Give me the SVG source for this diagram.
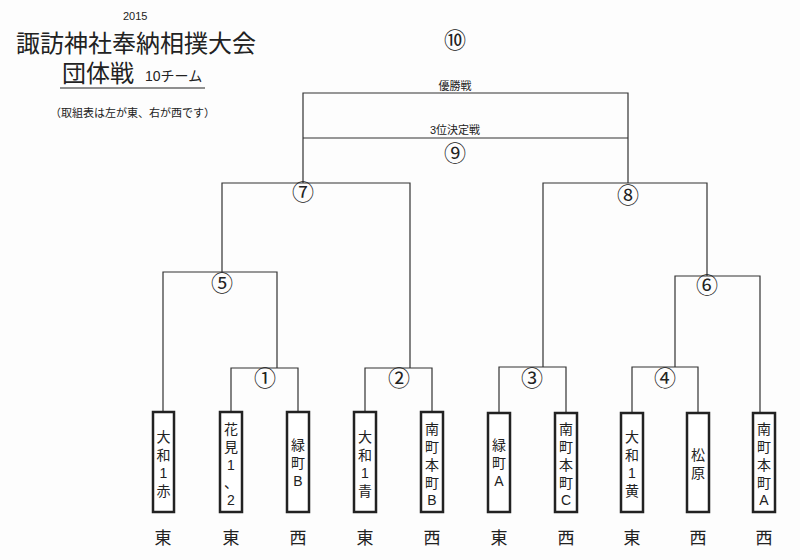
<svg xmlns="http://www.w3.org/2000/svg" width="800" height="560" viewBox="0 0 800 560">
<style>
text{font-family:"Liberation Sans","Noto Sans CJK JP",sans-serif;fill:#222}
.t{font-size:24px}
.s{font-size:11px}
.n{font-size:22px;text-anchor:middle;font-family:"Noto Sans CJK JP",sans-serif}
.bx{fill:#fff;stroke:#222;stroke-width:2.5}
.v{font-size:14px;text-anchor:middle}
.side{font-size:17px;text-anchor:middle}
.c{fill:none;stroke:#333;stroke-width:1.2}
</style>
<rect width="800" height="560" fill="#fdfdfd"/>
<g id="title">
<text x="123" y="20" class="s">2015</text>
<text x="16" y="52" class="t">諏訪神社奉納相撲大会</text>
<text x="62" y="82" class="t">団体戦</text>
<text x="145" y="81" font-size="14">10チーム</text>
<line x1="60" y1="88" x2="205" y2="88" stroke="#222" stroke-width="1.2"/>
<text x="50" y="117" font-size="11">（取組表は左が東、右が西です）</text>
</g>
<g id="connectors" class="c">
<polyline points="231,412 231,368 298,368 298,412"/>
<polyline points="365,412 365,368 432,368 432,412"/>
<polyline points="499,412 499,367 566,367 566,412"/>
<polyline points="632,412 632,367 698,367 698,412"/>
<polyline points="163,412 163,272 277,272 277,368"/>
<polyline points="675,367 675,276 760,276 760,412"/>
<polyline points="410,368 410,183 222,183 222,272"/>
<polyline points="543,367 543,183 707,183 707,276"/>
<polyline points="303,183 303,93 628,93 628,183"/>
<line x1="303" y1="138" x2="628" y2="138"/>
</g>
<g id="labels">
<text x="455" y="48" class="n">⑩</text>
<text x="455" y="90" font-size="11" text-anchor="middle">優勝戦</text>
<text x="455" y="134" font-size="11" text-anchor="middle">3位決定戦</text>
<text x="455" y="161" class="n">⑨</text>
<text x="303" y="200" class="n">⑦</text>
<text x="628" y="203" class="n">⑧</text>
<text x="222" y="291" class="n">⑤</text>
<text x="707" y="293" class="n">⑥</text>
<text x="265" y="386" class="n">①</text>
<text x="399" y="386" class="n">②</text>
<text x="532" y="386" class="n">③</text>
<text x="665" y="386" class="n">④</text>
</g>
<g id="n1"><rect class="bx" x="153" y="412" width="21" height="100"/><text class="v" x="163.5"><tspan x="163.5" y="442">大</tspan><tspan x="163.5" y="460">和</tspan><tspan x="163.5" y="478">1</tspan><tspan x="163.5" y="496">赤</tspan></text><text class="side" x="163" y="544">東</text></g>
<g id="n2"><rect class="bx" x="220" y="412" width="22" height="100"/><text class="v" x="231"><tspan x="231" y="434">花</tspan><tspan x="231" y="452">見</tspan><tspan x="231" y="470">1</tspan><tspan x="231" y="488">、</tspan><tspan x="231" y="505">2</tspan></text><text class="side" x="231" y="544">東</text></g>
<g id="n3"><rect class="bx" x="287" y="412" width="22" height="100"/><text class="v" x="298"><tspan x="298" y="450">緑</tspan><tspan x="298" y="468">町</tspan><tspan x="298" y="486">B</tspan></text><text class="side" x="298" y="544">西</text></g>
<g id="n4"><rect class="bx" x="354" y="412" width="22" height="100"/><text class="v" x="365"><tspan x="365" y="442">大</tspan><tspan x="365" y="460">和</tspan><tspan x="365" y="478">1</tspan><tspan x="365" y="496">青</tspan></text><text class="side" x="365" y="544">東</text></g>
<g id="n5"><rect class="bx" x="421" y="412" width="22" height="100"/><text class="v" x="432"><tspan x="432" y="434">南</tspan><tspan x="432" y="452">町</tspan><tspan x="432" y="470">本</tspan><tspan x="432" y="488">町</tspan><tspan x="432" y="505">B</tspan></text><text class="side" x="432" y="544">西</text></g>
<g id="n6"><rect class="bx" x="488" y="413" width="22" height="99"/><text class="v" x="499"><tspan x="499" y="450">緑</tspan><tspan x="499" y="468">町</tspan><tspan x="499" y="486">A</tspan></text><text class="side" x="499" y="544">東</text></g>
<g id="n7"><rect class="bx" x="555" y="413" width="22" height="99"/><text class="v" x="566"><tspan x="566" y="434">南</tspan><tspan x="566" y="452">町</tspan><tspan x="566" y="470">本</tspan><tspan x="566" y="488">町</tspan><tspan x="566" y="505">C</tspan></text><text class="side" x="566" y="544">西</text></g>
<g id="n8"><rect class="bx" x="621" y="413" width="22" height="99"/><text class="v" x="632"><tspan x="632" y="442">大</tspan><tspan x="632" y="460">和</tspan><tspan x="632" y="478">1</tspan><tspan x="632" y="496">黄</tspan></text><text class="side" x="632" y="544">東</text></g>
<g id="n9"><rect class="bx" x="687" y="413" width="22" height="99"/><text class="v" x="698"><tspan x="698" y="460">松</tspan><tspan x="698" y="478">原</tspan></text><text class="side" x="698" y="544">西</text></g>
<g id="n10"><rect class="bx" x="753" y="413" width="22" height="99"/><text class="v" x="764"><tspan x="764" y="434">南</tspan><tspan x="764" y="452">町</tspan><tspan x="764" y="470">本</tspan><tspan x="764" y="488">町</tspan><tspan x="764" y="505">A</tspan></text><text class="side" x="764" y="544">西</text></g>
</svg>
